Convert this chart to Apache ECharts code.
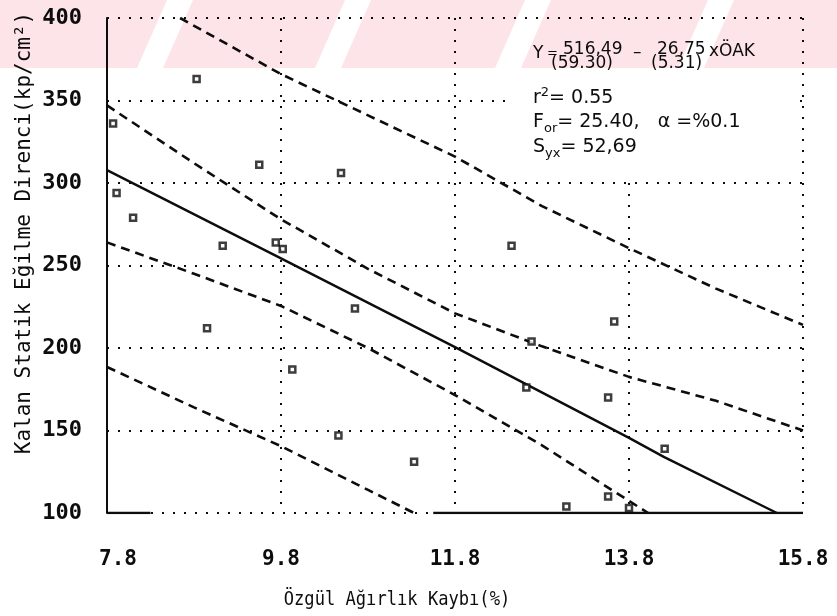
<!DOCTYPE html>
<html>
<head>
<meta charset="utf-8">
<script src="https://cdn.jsdelivr.net/npm/echarts@6/dist/echarts.min.js"></script>
<style>
  html, body { margin: 0; padding: 0; background: #ffffff; }
  #chart { width: 837px; height: 616px; }
</style>
</head>
<body>
<div id="chart"></div>
<script>
// Axis ticks
const xTicks = [7.8, 9.8, 11.8, 13.8, 15.8];
const yTicks = [100, 150, 200, 250, 300, 350, 400];

// Measured samples: [specific gravity loss %, residual static bending strength kp/cm2]
const samples = [
  [7.87, 336], [7.91, 294], [8.10, 279], [8.83, 363], [8.95, 212],
  [9.13, 262], [9.55, 311], [9.74, 264], [9.82, 260], [9.93, 187],
  [10.46, 147], [10.49, 306], [10.65, 224], [11.33, 131], [12.45, 262],
  [12.62, 176], [12.68, 204], [13.08, 104], [13.56, 110], [13.56, 170],
  [13.63, 216], [13.80, 103], [14.21, 139]
];

// Fitted regression line
const fitLine = [[7.8, 307.8], [9.8, 254.3], [11.8, 200.5], [13.8, 145.5], [14.2, 134], [15.5, 100]];

// Confidence band for the mean
const meanUpper = [[7.8, 347], [8.8, 312], [9.8, 278], [10.8, 248], [11.8, 221], [12.8, 201], [13.8, 182.5], [14.8, 168], [15.8, 150]];
const meanLower = [[7.8, 264], [8.8, 245], [9.8, 225.5], [10.8, 200], [11.8, 171.5], [12.8, 141], [13.6, 114], [14.02, 100]];

// Prediction band for single observations
const predUpper = [[8.64, 400], [9.8, 366], [10.8, 341], [11.8, 316], [12.8, 286], [13.8, 260.5], [14.8, 236], [15.8, 214]];
const predLower = [[7.8, 188.5], [8.8, 164], [9.8, 140.5], [10.8, 114], [11.33, 100]];

// Portions where the curves run along the lower limit
const floorLeft = [[7.8, 100], [8.3, 100]];
const floorRight = [[11.55, 100], [15.8, 100]];

const INK = '#0d0d0d';
const MONO = '"DejaVu Sans Mono", "Liberation Mono", monospace';
const SANS = '"DejaVu Sans", "Liberation Sans", sans-serif';

const dotted = { type: [2, 9], width: 2, color: INK, cap: 'butt' };
const dashed = { type: [9, 6], width: 2.6, color: INK };

function curve(data, style) {
  return {
    type: 'line', data: data, showSymbol: false, symbol: 'none',
    lineStyle: style, z: 3, silent: true, animation: false
  };
}

// Pink diagonal tint across the top strip, multiplied over everything below
const tintSpans = [[-120, 167], [193, 345], [371, 525], [551, 708], [734, 940]];
const bannerEls = tintSpans.map(function (s) {
  return {
    type: 'polygon', z: 50, silent: true,
    shape: { points: [[s[0], 0], [s[1], 0], [s[1] - 30, 68], [s[0] - 30, 68]] },
    style: { fill: '#fde4e8', blend: 'multiply' }
  };
});

// Blank panel behind the regression summary
const panelEl = {
  type: 'rect', z: 1, silent: true,
  shape: { x: 505, y: 24, width: 290, height: 154 },
  style: { fill: '#ffffff' }
};

const eqFont = '17px ' + SANS;
const mainFont = '19px ' + SANS;
const smallFont = '13px ' + SANS;

function plain(str, x, y, font) {
  return {
    type: 'text', z: 10, x: x, y: y,
    style: { text: str, font: font, fill: INK, align: 'left', verticalAlign: 'middle' }
  };
}

function richLine(str, x, y, lowMain) {
  return {
    type: 'text', z: 10, x: x, y: y,
    style: {
      text: str, fill: INK, align: 'left', verticalAlign: 'middle',
      rich: {
        m: { font: mainFont, fill: INK, lineHeight: 22, verticalAlign: lowMain ? 'bottom' : 'top' },
        sup: { font: smallFont, fill: INK, lineHeight: 22, verticalAlign: 'top' },
        sub: { font: smallFont, fill: INK, lineHeight: 22, verticalAlign: 'bottom' }
      }
    }
  };
}

const textEls = [
  {
    type: 'text', z: 10, x: 25, y: 233, rotation: Math.PI / 2,
    style: {
      text: 'Kalan Statik Eğilme Direnci(kp/cm²)',
      font: '21px ' + MONO, fill: INK, align: 'center', verticalAlign: 'middle'
    }
  },
  {
    type: 'text', z: 10, x: 397, y: 600, scaleX: 0.9,
    style: {
      text: 'Özgül Ağırlık Kaybı(%)',
      font: '19px ' + MONO, fill: INK, align: 'center', verticalAlign: 'middle'
    }
  },
  // Regression equation with standard errors beneath the coefficients
  plain('Y', 533, 54, eqFont),
  plain('=', 547, 54, '13px ' + SANS),
  plain('516,49', 563, 50, eqFont),
  plain('–', 633, 53, eqFont),
  plain('26,75', 657, 50, eqFont),
  plain('xÖAK', 709, 52, eqFont),
  plain('(59.30)', 551, 64, eqFont),
  plain('(5.31)', 651, 64, eqFont),
  richLine('{m|r}{sup|2}{m|= 0.55}', 533, 97, true),
  richLine('{m|F}{sub|or}{m|= 25.40,   α =%0.1}', 533, 124, false),
  richLine('{m|S}{sub|yx}{m|= 52,69}', 533, 149, false)
];

const chart = echarts.init(document.getElementById('chart'), null, { renderer: 'canvas' });

chart.setOption({
  animation: false,
  backgroundColor: '#ffffff',
  grid: { left: 107, right: 34, top: 18, bottom: 103, containLabel: false },
  xAxis: {
    type: 'value',
    min: xTicks[0], max: xTicks[xTicks.length - 1],
    interval: xTicks[1] - xTicks[0],
    axisLine: { show: false },
    axisTick: { show: false },
    splitLine: { show: true, lineStyle: dotted },
    axisLabel: {
      margin: 36, color: INK, fontSize: 21, fontFamily: MONO, fontWeight: 'bold',
      formatter: function (v) {
        const s = v.toFixed(1);
        return v === xTicks[0] ? '{first|' + s + '}' : s;
      },
      rich: {
        first: { fontSize: 21, fontFamily: MONO, fontWeight: 'bold', color: INK, padding: [0, 0, 0, 22] }
      }
    }
  },
  yAxis: {
    type: 'value',
    min: yTicks[0], max: yTicks[yTicks.length - 1],
    interval: yTicks[1] - yTicks[0],
    axisLine: { show: true, onZero: false, lineStyle: { color: INK, width: 2 } },
    axisTick: { show: false },
    splitLine: { show: true, lineStyle: dotted },
    axisLabel: {
      margin: 25, color: INK, fontSize: 22, fontFamily: MONO, fontWeight: 'bold',
      formatter: function (v) { return String(v); }
    }
  },
  graphic: { elements: [panelEl].concat(textEls, bannerEls) },
  series: [
    curve(predUpper, dashed),
    curve(predLower, dashed),
    curve(meanUpper, dashed),
    curve(meanLower, dashed),
    curve(fitLine, { type: 'solid', width: 2.4, color: INK }),
    curve(floorLeft, { type: 'solid', width: 2.4, color: INK }),
    curve(floorRight, { type: 'solid', width: 2.4, color: INK }),
    {
      type: 'scatter', data: samples, symbol: 'rect', symbolSize: 6,
      itemStyle: { color: '#ffffff', borderColor: INK, borderWidth: 2.5 },
      z: 5, silent: true
    }
  ]
});
</script>
</body>
</html>
